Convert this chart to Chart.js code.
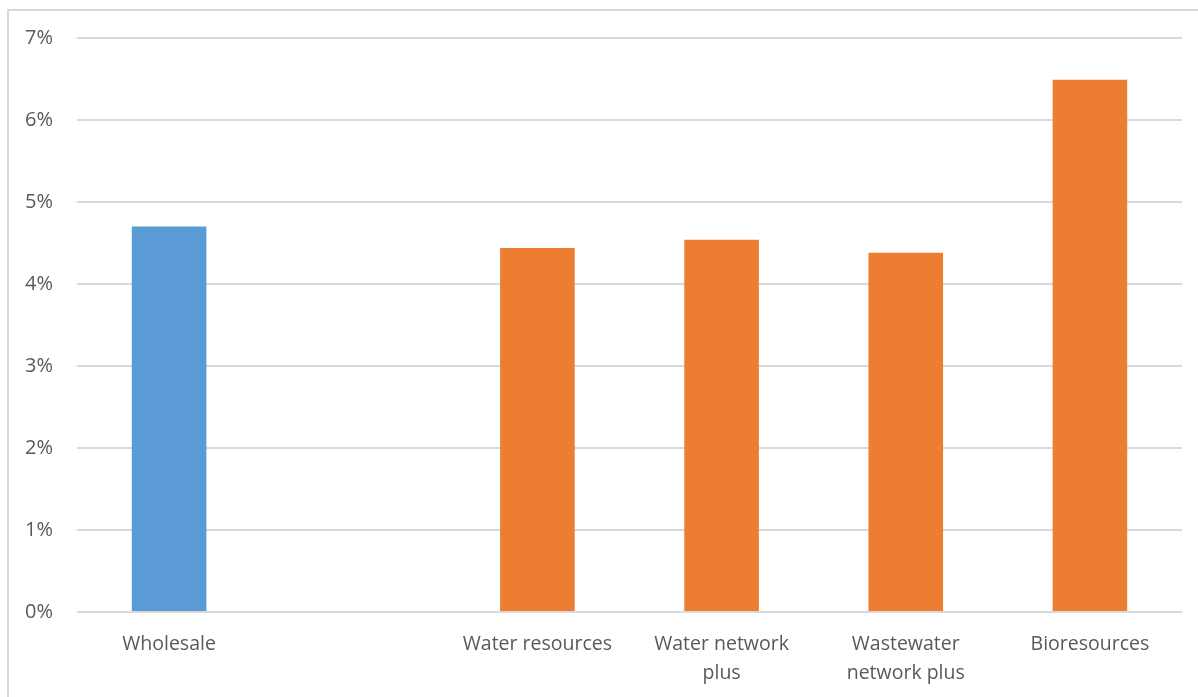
<!DOCTYPE html>
<html>
<head>
<meta charset="utf-8">
<script src="https://cdn.jsdelivr.net/npm/chart.js@4/dist/chart.umd.min.js"></script>
<style>
  html, body { margin: 0; padding: 0; background: #fff; overflow: hidden; }
  #wrap { position: relative; width: 1198px; height: 697px; }
</style>
</head>
<body>
<div id="wrap"><canvas id="chart" width="1198" height="697"></canvas></div>
<script>
// price control areas, the blank slot separates wholesale from its parts
const categories = ['Wholesale', '', 'Water resources', ['Water network', 'plus'], ['Wastewater', 'network plus'], 'Bioresources'];
const values = [4.70, null, 4.44, 4.54, 4.38, 6.49];
const barColors = ['#5b9bd5', '#5b9bd5', '#ed7d31', '#ed7d31', '#ed7d31', '#ed7d31'];
const yTicks = [0, 1, 2, 3, 4, 5, 6, 7];

// light frame around the chart, open on the right and bottom
const frame = {
  id: 'frame',
  beforeDraw(chart) {
    const c = chart.ctx;
    c.save();
    c.strokeStyle = '#d9d9d9';
    c.lineWidth = 2;
    c.strokeRect(8, 10, 1300, 800);
    c.restore();
  }
};

new Chart(document.getElementById('chart').getContext('2d'), {
  type: 'bar',
  data: {
    labels: categories,
    datasets: [{
      data: values,
      backgroundColor: barColors,
      borderWidth: 0,
      categoryPercentage: 1,
      barPercentage: 0.405
    }]
  },
  options: {
    responsive: false,
    animation: false,
    layout: { padding: { top: 38, right: 16, left: 0, bottom: 0 } },
    plugins: {
      legend: { display: false },
      tooltip: { enabled: false }
    },
    scales: {
      x: {
        grid: { display: false, drawTicks: false },
        border: { display: false },
        ticks: {
          color: '#595959',
          font: { family: 'Open Sans', size: 19.5, lineHeight: 1.5 },
          padding: 18,
          maxRotation: 0,
          autoSkip: false
        },
        afterFit: s => { s.height = 85; }
      },
      y: {
        min: 0,
        max: 7,
        afterBuildTicks: s => { s.ticks = yTicks.map(v => ({ value: v })); },
        grid: { color: '#d9d9d9', lineWidth: 2, drawTicks: false },
        border: { display: false },
        ticks: {
          color: '#595959',
          font: { family: 'Open Sans', size: 20 },
          padding: 24,
          callback: v => v + '%'
        },
        afterFit: s => { s.width = 77; }
      }
    }
  },
  plugins: [frame]
});
</script>
</body>
</html>
